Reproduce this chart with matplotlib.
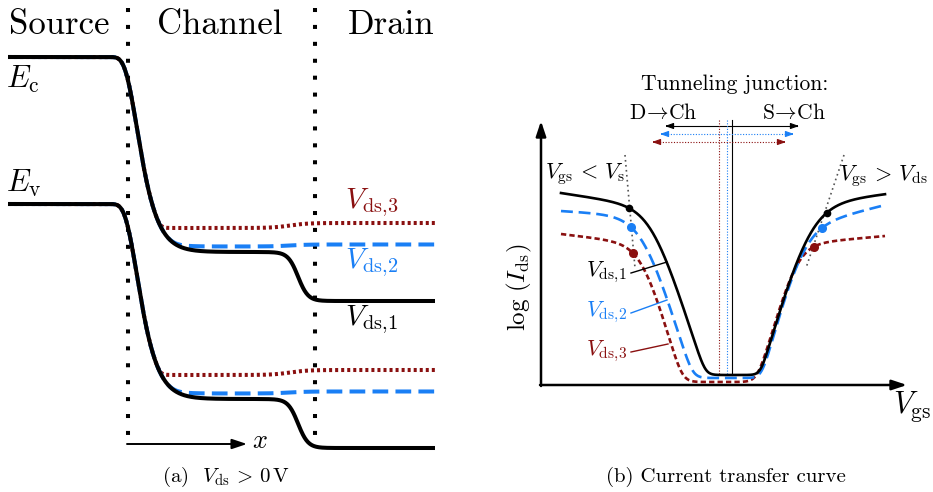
import numpy as np
import matplotlib
matplotlib.use("Agg")
import matplotlib.pyplot as plt

plt.rcParams['mathtext.fontset'] = 'cm'
plt.rcParams['font.family'] = 'cmr10'
plt.rcParams['axes.formatter.use_mathtext'] = True

# colours for V_ds,1 / V_ds,2 / V_ds,3
colors = ['#000000', '#1a7ff5', '#8a1010']

# ---- (a) band diagram, canvas pixels, y downward ----
ec_source = 57
ec_channel = [252, 247, 228]
ec_drain = [301, 245, 223]
band_gap = 147
src_edge, src_width = 137, 12
drn_edge = [298, 290, 290]
drn_width = [10, 18, 18]
x_band = [8, 435]
region_walls = [128, 315]
wall_span = [8, 445]

# ---- (b) transfer curve, canvas pixels, y downward ----
vgs_range = [561, 885]
top_left = [193, 211, 234]          # level at the left end
tilt_left = [0.15, 0.06, 0.12]
left_center = [652, 643, 643]
left_width = [12, 12, 10]
left_slope = [3.0, 3.2, 3.4]
top_right = [194, 205, 236]         # level at the right end
tilt_right = [0.12, 0.25, 0.09]
right_center = [809, 802, 797]
right_width = [14, 12, 9]
right_slope = [3.4, 3.5, 3.4]
floor_level = [375, 378, 382]
floor_soft = [9, 11, 13]
dot_left = [629, 631, 633]
dot_right = [827, 822, 814]
junction = [732, 727, 719]
junction_arrow_y = [126, 134, 142]
junction_half = 67
junction_span = [120, 375]
guide_left = [(625, 155), (635, 268)]
guide_right = [(844, 155), (806, 268)]


def step(x, c, w):
    return 0.5 * (1 + np.tanh((x - c) / w))


def gompertz(x, c, w):
    return np.exp(-np.exp(-(x - c) / w))


def smin(a, b, k):
    return -k * np.logaddexp(-a / k, -b / k)


def conduction_band(x, i):
    drop = ec_source + (ec_channel[0] - ec_source) * gompertz(x, src_edge, src_width)
    chan = drop if i == 0 else smin(drop, ec_channel[i], 3)
    return chan + (ec_drain[i] - ec_channel[i]) * step(x, drn_edge[i], drn_width[i])


def transfer(v, i):
    wl, wr = left_width[i], right_width[i]
    yl = (top_left[i] + tilt_left[i] * (v - vgs_range[0])
          + left_slope[i] * wl * np.logaddexp(0, (v - left_center[i]) / wl))
    yr = (top_right[i] + tilt_right[i] * (vgs_range[1] - v)
          + right_slope[i] * wr * np.logaddexp(0, (right_center[i] - v) / wr))
    k = floor_soft[i]
    fl = np.full_like(v, floor_level[i], dtype=float)
    return -k * np.logaddexp.reduce([-yl / k, -yr / k, -fl / k], axis=0)


fig = plt.figure(figsize=(9.33, 4.92), dpi=100)
ax = fig.add_axes([0, 0, 1, 1])
ax.set_xlim(0, 933)
ax.set_ylim(492, 0)
ax.axis('off')

# region walls
for xw in region_walls:
    ax.plot([xw, xw], wall_span, color='k', lw=2.9, dashes=(1, 3.2),
            dash_capstyle='butt', zorder=1)

xb = np.linspace(x_band[0], x_band[1], 800)
band_styles = [dict(ls='-'), dict(dashes=(3.9, 1.8)), dict(dashes=(0.75, 0.75))]
for i in [2, 1, 0]:
    ec = conduction_band(xb, i)
    for off in [0, band_gap]:
        ax.plot(xb, ec + off, color=colors[i], lw=2.9, zorder=3 - i * 0.5,
                dash_capstyle='butt', solid_capstyle='butt', **band_styles[i])

txt = dict(fontsize=25, ha='center', va='center')
ax.text(59, 25, 'Source', **txt)
ax.text(220, 25, 'Channel', **txt)
ax.text(391, 25, 'Drain', **txt)
ax.text(6, 79, r'$E_{\mathrm{c}}$', fontsize=22, ha='left', va='center')
ax.text(6, 183, r'$E_{\mathrm{v}}$', fontsize=22, ha='left', va='center')
ax.text(345, 203, r'$V_{\mathrm{ds{,}3}}$', fontsize=21, color=colors[2], ha='left', va='center')
ax.text(345, 263, r'$V_{\mathrm{ds{,}2}}$', fontsize=21, color=colors[1], ha='left', va='center')
ax.text(345, 320, r'$V_{\mathrm{ds{,}1}}$', fontsize=21, color=colors[0], ha='left', va='center')
ax.annotate('', xy=(247, 444), xytext=(127, 444),
            arrowprops=dict(arrowstyle='-|>,head_length=0.9,head_width=0.3', color='k', lw=1.4,
                            shrinkA=0, shrinkB=0))
ax.text(252, 441, r'$x$', fontsize=19, ha='left', va='center')
ax.text(226, 477, r'(a)  $V_{\mathrm{ds}}\,>\,0\,\mathrm{V}$', fontsize=15, ha='center', va='center')

# ---- (b) ----
ax.annotate('', xy=(541, 121), xytext=(541, 386),
            arrowprops=dict(arrowstyle='-|>,head_length=0.9,head_width=0.3', color='k', lw=1.8,
                            shrinkA=0, shrinkB=0))
ax.annotate('', xy=(907, 385), xytext=(540, 385),
            arrowprops=dict(arrowstyle='-|>,head_length=0.9,head_width=0.3', color='k', lw=1.8,
                            shrinkA=0, shrinkB=0))
ax.text(519, 287, r'$\log\,(I_{\mathrm{ds}})$', fontsize=18, rotation=90, ha='center', va='center')
ax.text(893, 407, r'$V_{\mathrm{gs}}$', fontsize=22, ha='left', va='center')

ax.text(735, 84, 'Tunneling junction:', fontsize=15.5, ha='center', va='center')
ax.text(663, 113, r'D$\!\rightarrow\!$Ch', fontsize=15.5, ha='center', va='center')
ax.text(794, 113, r'S$\!\rightarrow\!$Ch', fontsize=15.5, ha='center', va='center')

junction_styles = [dict(ls='-'), dict(dashes=(1, 1.5)), dict(dashes=(1, 1.5))]
head = dict(arrowstyle='-|>,head_length=0.5,head_width=0.18', lw=0.8, shrinkA=0, shrinkB=0)
for i in range(3):
    ax.plot([junction[i]] * 2, junction_span, color=colors[i], lw=0.8, zorder=2, **junction_styles[i])
    xa, xz = junction[i] - junction_half, junction[i] + junction_half
    ya = junction_arrow_y[i]
    ax.plot([xa + 2, xz - 2], [ya, ya], color=colors[i], lw=0.8, zorder=2, **junction_styles[i])
    for tip, back in [(xa, xa + 3), (xz, xz - 3)]:
        ax.annotate('', xy=(tip, ya), xytext=(back, ya), arrowprops=dict(color=colors[i], **head))

for g in [guide_left, guide_right]:
    ax.plot([g[0][0], g[1][0]], [g[0][1], g[1][1]], color='#555555', lw=1.2, dashes=(1, 2), zorder=2)

v = np.linspace(vgs_range[0], vgs_range[1], 600)
curve_styles = [dict(ls='-'), dict(dashes=(4.5, 2.2)), dict(dashes=(2, 1.2))]
for i in [2, 1, 0]:
    ax.plot(v, transfer(v, i), color=colors[i], lw=1.9, zorder=4 - i * 0.5, **curve_styles[i])
    d = np.array([dot_left[i], dot_right[i]], dtype=float)
    ax.plot(d, transfer(d, i), 'o', color=colors[i], ms=5.5 if i else 4.5, zorder=5)

ax.text(545, 174, r'$V_{\mathrm{gs}}\,<\,V_{\mathrm{s}}$', fontsize=16, ha='left', va='center')
ax.text(839, 176, r'$V_{\mathrm{gs}}\,>\,V_{\mathrm{ds}}$', fontsize=16, ha='left', va='center')

labels_y = [272, 312, 351]
leader_end = [(667, 262), (667, 300), (668, 344)]
for i in range(3):
    ax.text(627, labels_y[i], r'$V_{\mathrm{ds{,}%d}}$' % (i + 1), fontsize=16, color=colors[i],
            ha='right', va='center')
    ax.plot([631, leader_end[i][0]], [labels_y[i] + 1, leader_end[i][1]], color=colors[i], lw=1.0, zorder=6)

ax.text(726, 477, '(b) Current transfer curve', fontsize=15, ha='center', va='center')

fig.savefig('out.png', dpi=100)
